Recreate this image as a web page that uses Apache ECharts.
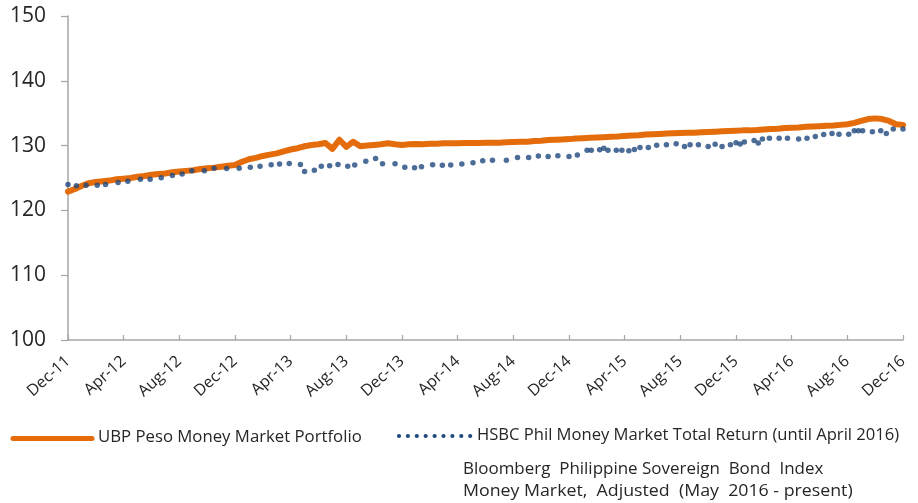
<!DOCTYPE html>
<html>
<head>
<meta charset="utf-8">
<script src="https://cdn.jsdelivr.net/npm/echarts@6/dist/echarts.min.js"></script>
<style>
html,body{margin:0;padding:0;background:#fff;}
#c{width:918px;height:503px;}
</style>
</head>
<body>
<div id="c"></div>
<script>
// X tick labels (every 4 months, Dec-11 .. Dec-16); x axis is month index from Dec-11
var tickLabels = ['Dec-11','Apr-12','Aug-12','Dec-12','Apr-13','Aug-13','Dec-13','Apr-14','Aug-14','Dec-14','Apr-15','Aug-15','Dec-15','Apr-16','Aug-16','Dec-16'];
var monthsPerTick = 4;

// UBP Peso Money Market Portfolio: values every half month from Dec-11
var orangeStep = 0.5;
var orangeValues = [
 122.9,123.3,123.8,124.2,124.4,124.5,124.6,124.8,124.9,125.0,
 125.2,125.3,125.5,125.6,125.7,125.9,126.0,126.1,126.2,126.4,
 126.5,126.6,126.75,126.9,127.0,127.5,127.9,128.1,128.4,128.6,
 128.8,129.1,129.4,129.6,129.9,130.1,130.2,130.4,129.5,130.9,
 129.8,130.6,129.9,130.0,130.1,130.2,130.35,130.2,130.1,130.2,
 130.25,130.2,130.3,130.3,130.35,130.35,130.35,130.4,130.4,130.4,
 130.45,130.45,130.45,130.5,130.55,130.6,130.6,130.7,130.75,130.85,
 130.9,130.95,131.0,131.1,131.15,131.2,131.25,131.3,131.35,131.4,
 131.5,131.55,131.6,131.7,131.75,131.8,131.85,131.9,131.95,132.0,
 132.0,132.05,132.1,132.15,132.2,132.25,132.3,132.35,132.35,132.4,
 132.5,132.55,132.6,132.7,132.75,132.8,132.9,132.95,133.0,133.05,
 133.1,133.2,133.3,133.5,133.8,134.1,134.2,134.1,133.8,133.3,133.2
];

// HSBC / Bloomberg benchmark: month index and value of each dot
var blueMonths = [
 0.0,0.6,1.3,2.1,2.7,3.6,4.3,5.2,5.9,6.7,7.5,8.2,8.9,9.8,10.5,11.4,12.3,13.1,13.8,14.6,
 15.2,15.9,16.7,17.0,17.7,18.2,18.8,19.4,20.1,20.6,21.4,22.1,22.6,23.5,24.2,24.9,25.4,26.2,26.9,27.5,
 28.3,29.1,29.8,30.5,31.5,32.3,33.1,33.8,34.5,35.2,36.0,36.6,37.3,37.6,38.2,38.5,38.8,39.4,39.8,40.3,
 40.7,41.1,41.7,42.3,43.0,43.7,44.3,44.7,45.3,46.0,46.5,47.0,47.6,48.0,48.3,48.6,49.3,49.6,49.9,50.4,
 51.1,51.7,52.5,53.1,53.7,54.3,54.9,55.4,56.1,56.5,56.8,57.1,57.8,58.4,58.8,59.3,60.0
];
var blueValues = [
 124.0,123.8,123.9,123.9,124.0,124.3,124.5,124.8,124.8,125.05,125.4,125.6,126.1,126.1,126.5,126.45,126.5,126.65,126.8,127.05,
 127.15,127.25,127.1,126.0,126.2,126.8,126.9,127.1,126.8,127.0,127.6,128.0,127.2,127.2,126.65,126.6,126.75,127.05,126.95,127.0,
 127.15,127.35,127.65,127.75,127.75,128.15,128.15,128.4,128.3,128.45,128.3,128.55,129.3,129.3,129.35,129.6,129.3,129.3,129.3,129.2,
 129.4,129.7,129.7,130.05,130.15,130.3,129.85,130.15,130.15,129.85,130.2,129.85,130.15,130.45,130.25,130.55,130.8,130.4,131.0,131.15,
 131.15,131.15,131.0,131.15,131.4,131.7,131.85,131.75,131.75,132.3,132.3,132.3,132.15,132.3,131.85,132.55,132.55
];

var yMin = 100, yMax = 150, yStep = 10;

var seriesNames = ['UBP Peso Money Market Portfolio', 'HSBC Phil Money Market Total Return (until April 2016)'];
var noteLines = ['Bloomberg  Philippine Sovereign  Bond  Index', 'Money Market,  Adjusted  (May  2016 - present)'];

var ORANGE = '#e46c0a', BLUE = '#1f497d', AXIS = '#a6a6a6', TXT = '#262626';
var FONT = '"Open Sans", "Liberation Sans", sans-serif';

var orangeData = orangeValues.map(function(v, i){ return [i * orangeStep, v]; });
var blueData = blueValues.map(function(v, i){ return [blueMonths[i], v]; });

var legendDots = [];
for (var k = 0; k < 9; k++) {
  legendDots.push({type:'circle', shape:{cx:399 + k*8.9, cy:436, r:2.1}, style:{fill:BLUE}});
}

function label(txt, x, y, size, sx) {
  return {type:'text', x: x, y: y, scaleX: sx, scaleY: 1,
    style:{text: txt, fill: TXT, font: size + 'px ' + FONT, verticalAlign: 'middle', align: 'left'}};
}

var chart = echarts.init(document.getElementById('c'), null, {renderer:'canvas'});
chart.setOption({
  animation: false,
  backgroundColor: '#fff',
  grid: {left: 68, right: 15, top: 16, bottom: 163, containLabel: false},
  xAxis: {
    type: 'value', min: 0, max: (tickLabels.length - 1) * monthsPerTick, interval: monthsPerTick,
    splitLine: {show: false},
    axisLine: {show: true, onZero: false, lineStyle: {color: AXIS, width: 1.5}},
    axisTick: {show: true, inside: true, length: 5, lineStyle: {color: AXIS, width: 1.2}},
    axisLabel: {
      rotate: 42, margin: 19, color: TXT, fontFamily: FONT, fontSize: 16,
      showMinLabel: true, showMaxLabel: true,
      formatter: function(v){ return tickLabels[Math.round(v / monthsPerTick)] || ''; }
    }
  },
  yAxis: {
    type: 'value', min: yMin, max: yMax, interval: yStep,
    splitLine: {show: false},
    axisLine: {show: true, lineStyle: {color: AXIS, width: 1.5}},
    axisTick: {show: true, length: 7, lineStyle: {color: AXIS, width: 1.2}},
    axisLabel: {margin: 22, color: TXT, fontFamily: FONT, fontSize: 21}
  },
  series: [
    {
      name: seriesNames[0], type: 'line', data: orangeData, showSymbol: false, symbol: 'none',
      lineStyle: {color: ORANGE, width: 6, join: 'round', cap: 'round'}, z: 2
    },
    {
      name: seriesNames[1], type: 'scatter', data: blueData, symbol: 'circle', symbolSize: 5.5,
      itemStyle: {color: BLUE}, z: 3
    }
  ],
  graphic: [
    {type:'line', shape:{x1:13, y1:438.5, x2:92, y2:438.5}, style:{stroke:ORANGE, lineWidth:5, lineCap:'round'}},
    label(seriesNames[0], 98, 438, 15.5, 1.08),
    {type:'group', children: legendDots},
    label(seriesNames[1], 477, 436, 15.5, 1.07),
    label(noteLines[0], 463, 469, 16, 1.06),
    label(noteLines[1], 463, 491, 16, 1.11)
  ]
});
</script>
</body>
</html>
